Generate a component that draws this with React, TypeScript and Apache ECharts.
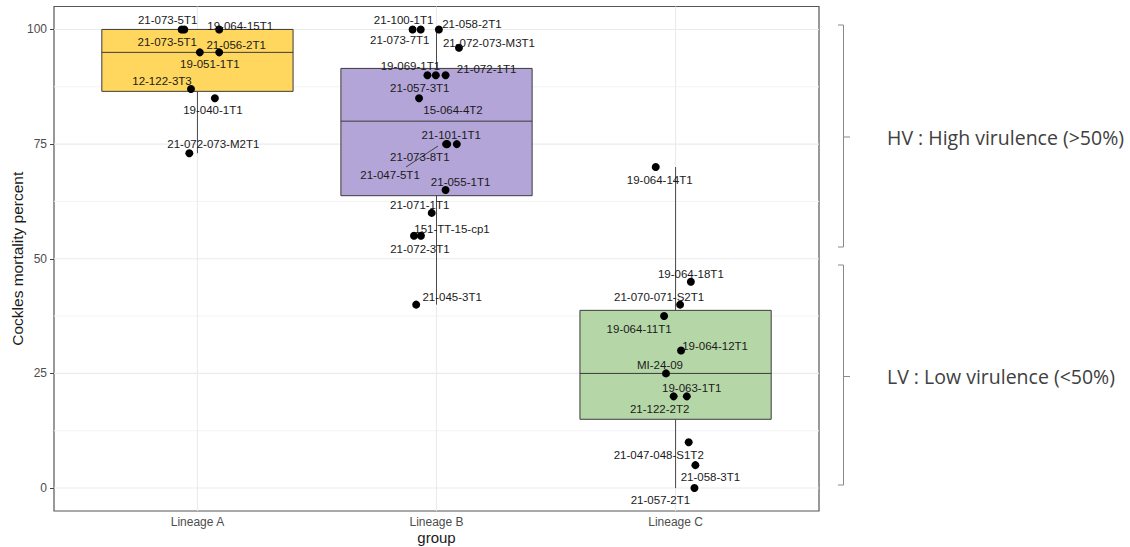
import React, { useEffect, useRef } from "react";
import * as echarts from "echarts";

// ---------- data ----------
const categories = ["Lineage A", "Lineage B", "Lineage C"];
const boxColors = ["#FFD75E", "#B4A5D8", "#B5D7A7"];

const namesA = ["21-073-5T1", "21-073-5T1", "19-064-15T1", "19-051-1T1", "21-056-2T1", "12-122-3T3", "19-040-1T1", "21-072-073-M2T1"];
const valuesA = [100, 100, 100, 95, 95, 87, 85, 73];
const jitterA = [0.934, 0.945, 1.091, 1.01, 1.091, 0.973, 1.073, 0.966];

const namesB = ["21-100-1T1", "21-073-7T1", "21-058-2T1", "21-072-073-M3T1", "19-069-1T1", "21-057-3T1", "21-072-1T1", "15-064-4T2", "21-101-1T1", "21-073-8T1", "21-047-5T1", "21-055-1T1", "21-071-1T1", "151-TT-15-cp1", "21-072-3T1", "21-045-3T1"];
const valuesB = [100, 100, 100, 96, 90, 90, 90, 85, 75, 75, 75, 65, 60, 55, 55, 40];
const jitterB = [1.9, 1.934, 2.01, 2.094, 1.962, 1.997, 2.038, 1.927, 2.045, 2.085, 2.04, 2.038, 1.98, 1.906, 1.935, 1.915];

const namesC = ["19-064-14T1", "19-064-18T1", "21-070-071-S2T1", "19-064-11T1", "19-064-12T1", "MI-24-09", "21-122-2T2", "19-063-1T1", "21-047-048-S1T2", "21-058-3T1", "21-057-2T1"];
const valuesC = [70, 45, 40, 37.5, 30, 25, 20, 20, 10, 5, 0];
const jitterC = [2.917, 3.064, 3.019, 2.952, 3.023, 2.96, 2.992, 3.047, 3.055, 3.083, 3.079];

// label placement (pixel offsets of each text from its point, as ggrepel placed them)
const labelOffsetA = [[-14, -9], [-17, 13], [21, -3], [10, 12], [17, -7], [-29, -8], [-2, 12], [24, -9]];
const labelOffsetB = [[-9, -9], [-21, 11], [33, -5], [30, -5], [-17, -9], [-16, 13], [41, -6], [34, 12], [4, -9], [-37, 13], [-56, 31], [15, -8], [-12, -8], [38, -7], [-1, 13], [36, -8]];
const labelOffsetC = [[4, 13], [0, -8], [-21, -8], [-25, 13], [34, -4], [-6, -8], [-14, 13], [5, -8], [-30, 13], [15, 12], [-34, 12]];

const yTicks = [0, 25, 50, 75, 100];
const yMinorGrid = [12.5, 37.5, 62.5, 87.5];
const xTicks = [1, 2, 3];

// ---------- helpers ----------
function quantile(sorted: number[], p: number) {
  const h = (sorted.length - 1) * p;
  const lo = Math.floor(h);
  const hi = Math.ceil(h);
  return sorted[lo] + (h - lo) * (sorted[hi] - sorted[lo]);
}
function boxStats(values: number[], pos: number) {
  const s = [...values].sort((a, b) => a - b);
  const q1 = quantile(s, 0.25);
  const med = quantile(s, 0.5);
  const q3 = quantile(s, 0.75);
  const iqr = q3 - q1;
  const lo = Math.min(...s.filter((v) => v >= q1 - 1.5 * iqr));
  const hi = Math.max(...s.filter((v) => v <= q3 + 1.5 * iqr));
  return [pos, q1, med, q3, lo, hi];
}

const groups = [
  { names: namesA, values: valuesA, jitter: jitterA, offsets: labelOffsetA },
  { names: namesB, values: valuesB, jitter: jitterB, offsets: labelOffsetB },
  { names: namesC, values: valuesC, jitter: jitterC, offsets: labelOffsetC },
];

export default function App() {
  const ref = useRef<HTMLDivElement>(null);
  useEffect(() => {
    document.body.style.margin = "0";
    const chart = echarts.init(ref.current!, null, { renderer: "svg" });

    const boxData = groups.map((g, i) => boxStats(g.values, i + 1));
    const points: any[] = [];
    groups.forEach((g) => {
      g.values.forEach((v, j) => {
        points.push({
          name: g.names[j],
          value: [g.jitter[j], v],
          label: { offset: g.offsets[j] },
        });
      });
    });

    const font = "'Liberation Sans', Arial, sans-serif";
    const bracketStyle = { stroke: "#8a8a8a", lineWidth: 1, fill: "none" };
    const annoFont = "'Open Sans', sans-serif";

    chart.setOption({
      animation: false,
      backgroundColor: "#ffffff",
      grid: {
        left: 54,
        right: 311,
        top: 6.5,
        bottom: 36,
        show: true,
        borderColor: "#555555",
        borderWidth: 1.2,
        backgroundColor: "transparent",
        outerBoundsMode: "none",
      },
      xAxis: {
        type: "value",
        min: 0.4,
        max: 3.6,
        name: "group",
        nameLocation: "middle",
        nameGap: 19,
        nameMoveOverlap: false,
        nameTextStyle: { fontFamily: font, fontSize: 15, color: "#1a1a1a" },
        axisLine: { show: false },
        splitLine: { show: false },
        axisTick: { show: true, customValues: xTicks, length: 4, lineStyle: { color: "#444" } },
        axisLabel: {
          customValues: xTicks,
          margin: 5,
          color: "#4d4d4d",
          fontFamily: font,
          fontSize: 12,
          formatter: (v: number) => categories[Math.round(v) - 1] ?? "",
        },
      },
      yAxis: {
        type: "value",
        min: -5,
        max: 105,
        name: "Cockles mortality percent",
        nameLocation: "middle",
        nameGap: 29,
        nameMoveOverlap: false,
        nameTextStyle: { fontFamily: font, fontSize: 15.5, color: "#1a1a1a" },
        axisLine: { show: false },
        splitLine: { show: false },
        axisTick: { show: true, customValues: yTicks, length: 4, lineStyle: { color: "#444" } },
        axisLabel: {
          customValues: yTicks,
          margin: 7,
          color: "#4d4d4d",
          fontFamily: font,
          fontSize: 12,
        },
      },
      series: [
        {
          type: "custom",
          z: 1,
          silent: true,
          data: [[1, 50]],
          encode: { x: 0, y: 1 },
          renderItem: (params: any, api: any) => {
            const cs = params.coordSys;
            const children: any[] = [];
            yMinorGrid.forEach((v) => {
              const p = api.coord([1, v]);
              children.push({ type: "line", shape: { x1: cs.x, y1: p[1], x2: cs.x + cs.width, y2: p[1] }, style: { stroke: "#F3F3F3", lineWidth: 1 } });
            });
            yTicks.forEach((v) => {
              const p = api.coord([1, v]);
              children.push({ type: "line", shape: { x1: cs.x, y1: p[1], x2: cs.x + cs.width, y2: p[1] }, style: { stroke: "#EBEBEB", lineWidth: 1.1 } });
            });
            xTicks.forEach((v) => {
              const p = api.coord([v, 50]);
              children.push({ type: "line", shape: { x1: p[0], y1: cs.y, x2: p[0], y2: cs.y + cs.height }, style: { stroke: "#EBEBEB", lineWidth: 1.1 } });
            });
            return { type: "group", children };
          },
        },
        {
          type: "custom",
          z: 10,
          silent: true,
          data: boxData,
          encode: { x: 0, y: [1, 2, 3, 4, 5] },
          renderItem: (params: any, api: any) => {
            const x = api.value(0);
            const pQ1 = api.coord([x, api.value(1)]);
            const pMed = api.coord([x, api.value(2)]);
            const pQ3 = api.coord([x, api.value(3)]);
            const pLo = api.coord([x, api.value(4)]);
            const pHi = api.coord([x, api.value(5)]);
            const half = api.size([0.4, 0])[0];
            const wStyle = { stroke: "#4a4a4a", lineWidth: 1 };
            return {
              type: "group",
              children: [
                { type: "line", shape: { x1: pHi[0], y1: pHi[1], x2: pQ3[0], y2: pQ3[1] }, style: wStyle },
                { type: "line", shape: { x1: pQ1[0], y1: pQ1[1], x2: pLo[0], y2: pLo[1] }, style: wStyle },
                {
                  type: "rect",
                  shape: { x: pQ3[0] - half, y: pQ3[1], width: half * 2, height: pQ1[1] - pQ3[1] },
                  style: { fill: boxColors[params.dataIndex], stroke: "#3a3a3a", lineWidth: 1 },
                },
                {
                  type: "line",
                  shape: { x1: pMed[0] - half, y1: pMed[1], x2: pMed[0] + half, y2: pMed[1] },
                  style: { stroke: "#3a3a3a", lineWidth: 1 },
                },
              ],
            };
          },
        },
        {
          type: "scatter",
          z: 12,
          symbolSize: 8,
          itemStyle: { color: "#000000", opacity: 1 },
          data: points,
          label: {
            show: true,
            position: "inside",
            formatter: (p: any) => p.name,
            color: "#1a1a1a",
            fontFamily: font,
            fontSize: 11.5,
          },
        },
      ],
      graphic: [
        // ggrepel leader segment for the "21-047-5T1" label
        { type: "line", z: 20, shape: { x1: 406, y1: 167, x2: 438, y2: 146 }, style: { stroke: "#333333", lineWidth: 0.9 } },
        { type: "polyline", shape: { points: [[838, 25], [843.5, 25], [843.5, 247], [838, 247]] }, style: bracketStyle },
        { type: "line", shape: { x1: 843.5, y1: 137, x2: 850, y2: 137 }, style: bracketStyle },
        { type: "polyline", shape: { points: [[838, 265], [843.5, 265], [843.5, 485], [838, 485]] }, style: bracketStyle },
        { type: "line", shape: { x1: 843.5, y1: 376.5, x2: 850, y2: 376.5 }, style: bracketStyle },
        {
          type: "text",
          x: 887,
          y: 137,
          style: { text: "HV : High virulence (>50%)", fill: "#404040", font: `19.5px ${annoFont}`, textVerticalAlign: "middle", verticalAlign: "middle" },
        },
        {
          type: "text",
          x: 887,
          y: 376.5,
          style: { text: "LV : Low virulence (<50%)", fill: "#404040", font: `19.5px ${annoFont}`, textVerticalAlign: "middle", verticalAlign: "middle" },
        },
      ],
    });
    return () => chart.dispose();
  }, []);
  return <div ref={ref} style={{ width: 1130, height: 547 }} />;
}
